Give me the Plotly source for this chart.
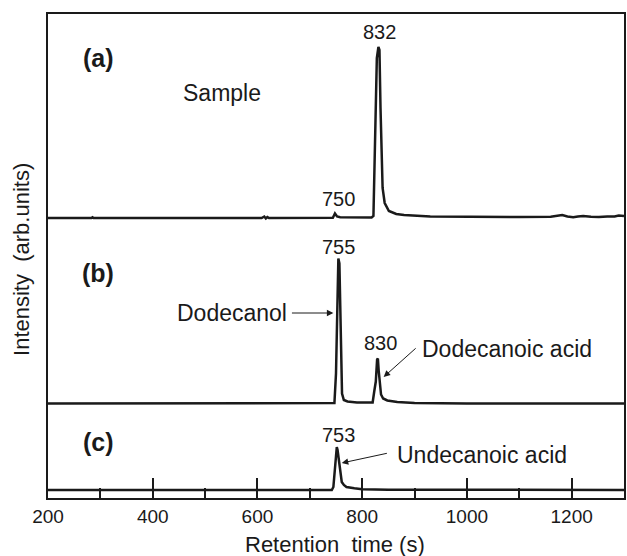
import plotly.graph_objects as go

# ---------------- data (retention time s, intensity arb. units) ----------------
sample_t = [200, 283, 285, 287, 608, 613, 616, 619, 622, 735, 744, 748, 752, 758, 790,
            818, 821.5, 823, 825, 828, 831, 833, 835, 836.5, 839, 843, 851, 865, 880,
            930, 1000, 1100, 1160, 1172, 1182, 1192, 1203, 1212, 1222, 1237, 1252,
            1268, 1282, 1290, 1300]
sample_i = [0, 0, 0.8, 0, 0, 1.5, -0.5, 1, 0, 0, 0.3, 4.5, 1.5, 0.8, 0.5,
            0.5, 2, 40, 64, 160, 171, 168, 110, 64, 30, 15, 7, 4, 3,
            1.5, 1, 1, 1.2, 2.5, 3, 1.5, 0.8, 1.5, 2, 1.3, 1,
            1.5, 1.5, 2.5, 2]

std_b_t = [200, 740, 747, 750, 752.5, 754.5, 756.5, 758, 759.5, 761.5, 765, 772, 790,
           815, 820, 823, 826, 828.5, 830, 831.5, 834, 836, 840, 848, 867, 900, 1000, 1300]
std_b_i = [0, 0, 0.5, 30, 95, 145, 140, 90, 40, 10, 3.5, 2, 1,
           0.8, 1, 12, 22, 44, 45, 33, 20, 9, 5, 3, 1.5, 0.5, 0, 0]

std_c_t = [200, 742, 745, 747.5, 749.5, 751.5, 753, 755, 757, 759, 761, 765, 770, 785,
           800, 850, 1000, 1300]
std_c_i = [0, 0, 3, 20, 38, 43, 40, 32, 20, 12, 8, 5, 3, 1.7,
           0.8, 0.3, 0, 0]

trace_offsets = [280, 94.5, 8]          # vertical stacking offsets (a), (b), (c)
x_ticks = [200, 400, 600, 800, 1000, 1200]

# ---------------- figure ----------------
FONT = "Liberation Sans, Arial, Helvetica, sans-serif"
INK = "#1a1a1a"

fig = go.Figure()
for t, i, off in [(sample_t, sample_i, trace_offsets[0]),
                  (std_b_t, std_b_i, trace_offsets[1]),
                  (std_c_t, std_c_i, trace_offsets[2])]:
    fig.add_trace(go.Scatter(x=t, y=[v + off for v in i], mode="lines",
                             line=dict(color=INK, width=2.5), showlegend=False,
                             hoverinfo="skip"))

ann = []
def txt(x, y, s, size=20, bold=False, xanchor="center"):
    ann.append(dict(x=x, y=y, xref="x", yref="y", text=("<b>%s</b>" % s) if bold else s,
                    showarrow=False, xanchor=xanchor, yanchor="middle",
                    font=dict(family=FONT, size=size, color=INK)))

def arrow(x0, y0, x1, y1):
    ann.append(dict(x=x1, y=y1, ax=x0, ay=y0, xref="x", yref="y", axref="x", ayref="y",
                    text="", showarrow=True, arrowhead=2, arrowsize=1.3, arrowwidth=1,
                    arrowcolor=INK, standoff=0, startstandoff=0))

# panel letters
txt(296, 440, "(a)", size=25, bold=True)
txt(296, 225, "(b)", size=25, bold=True)
txt(296, 56, "(c)", size=25, bold=True)
# peak labels
txt(834, 466, "832")
txt(754, 299, "750")
txt(754, 251, "755")
txt(835, 155, "830")
txt(754, 63, "753")
# names
txt(532, 405, "Sample", size=23)
txt(552, 185, "Dodecanol", size=23)
txt(1076, 149, "Dodecanoic acid", size=23)
txt(1028, 43, "Undecanoic acid", size=23)
arrow(663, 185, 745, 185)
arrow(905, 151, 841, 121)
arrow(850, 45, 761, 35)

# axis titles
ann.append(dict(x=0.499, y=-0.097, xref="paper", yref="paper", text="Retention\u00a0 time (s)",
                showarrow=False, xanchor="center", yanchor="middle",
                font=dict(family=FONT, size=22, color=INK)))
ann.append(dict(x=-0.045, y=0.492, xref="paper", yref="paper",
                text="Intensity\u00a0 (arb.units)", textangle=-90,
                showarrow=False, xanchor="center", yanchor="middle",
                font=dict(family=FONT, size=22, color=INK)))

fig.update_layout(
    width=627, height=556,
    margin=dict(l=48, r=1, t=14, b=58),
    plot_bgcolor="white", paper_bgcolor="white",
    annotations=ann,
    font=dict(family=FONT, color=INK),
)
fig.update_xaxes(range=[200, 1300], tickvals=x_ticks, ticktext=[str(v) for v in x_ticks],
                 ticks="inside", ticklen=20, tickwidth=1.5, tickcolor=INK,
                 showline=True, linewidth=2, linecolor=INK, mirror=True,
                 showgrid=False, zeroline=False,
                 tickfont=dict(family=FONT, size=19, color=INK),
                 minor=dict(tickvals=[300, 500, 700, 900, 1100, 1300], ticks="inside",
                            ticklen=10, tickwidth=1.5, tickcolor=INK, showgrid=False))
fig.update_yaxes(range=[0, 484], showticklabels=False, ticks="",
                 showline=True, linewidth=2, linecolor=INK, mirror=True,
                 showgrid=False, zeroline=False)

fig.write_html("out.html")
